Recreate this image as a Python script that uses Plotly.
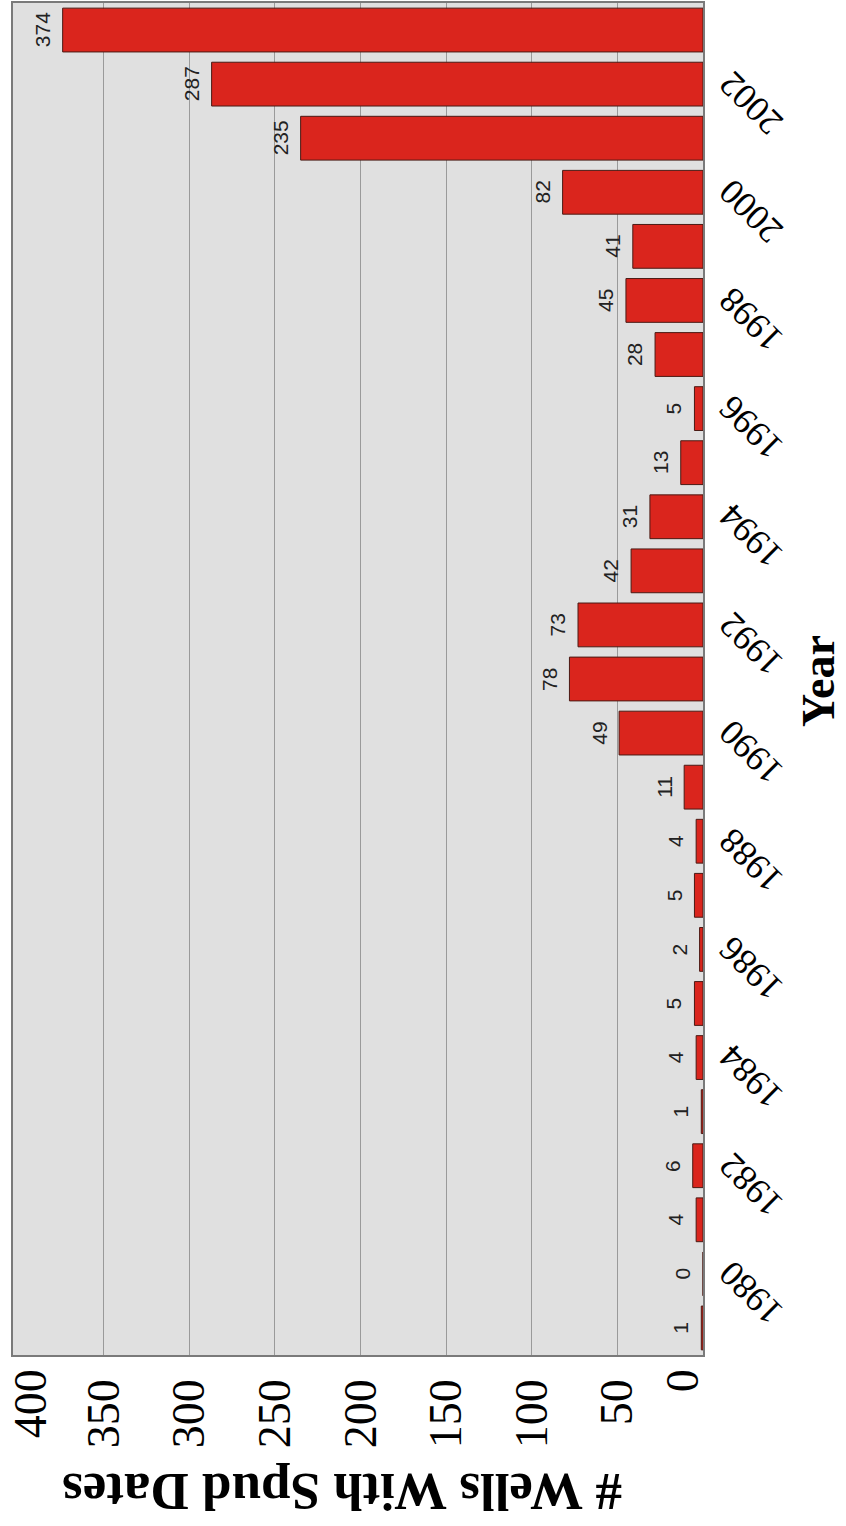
import plotly.graph_objects as go

years = list(range(1980, 2005))
wells = [1, 0, 4, 6, 1, 4, 5, 2, 5, 4, 11, 49, 78, 73, 42, 31, 13, 5, 28, 45, 41, 82, 235, 287, 374]
year_ticks = list(range(1980, 2003, 2))
value_ticks_mid = [50, 100, 150, 200, 250, 300, 350]
value_tick_max = [400]
value_tick_min = [0]

X_RANGE = [403, 0]
tick_font = dict(family="Liberation Serif", size=46, color="black")

fig = go.Figure()
fig.add_trace(go.Bar(
    x=wells, y=years, orientation="h",
    marker=dict(color="#da251d", line=dict(color="#4a1a14", width=1)),
    width=0.81, hoverinfo="x+y",
))
# invisible carriers so the overlay axes holding the end tick labels are drawn
fig.add_trace(go.Scatter(x=value_tick_max, y=[years[0]], xaxis="x2", mode="markers",
                         marker=dict(opacity=0), hoverinfo="skip"))
fig.add_trace(go.Scatter(x=value_tick_min, y=[years[0]], xaxis="x3", mode="markers",
                         marker=dict(opacity=0), hoverinfo="skip"))

annotations = []
for yr, v in zip(years, wells):
    annotations.append(dict(
        x=v, y=yr, xref="x", yref="y", text=str(v), showarrow=False,
        textangle=-90, xanchor="right", yanchor="middle", xshift=-7,
        font=dict(family="Liberation Sans", size=21, color="#222222"),
    ))
annotations += [
    dict(text="<b># Wells With Spud Dates</b>", xref="paper", yref="paper",
         x=0.476, y=-0.1013, xanchor="center", yanchor="middle",
         textangle=180, showarrow=False,
         font=dict(family="Liberation Serif", size=53, color="black")),
    dict(text="<b>Year</b>", xref="paper", yref="paper",
         x=1.1667, y=0.4985, xanchor="center", yanchor="middle",
         textangle=-90, showarrow=False,
         font=dict(family="Liberation Serif", size=46, color="black")),
]

overlay_common = dict(
    overlaying="x", anchor="y", side="bottom", range=X_RANGE,
    tickangle=-90, tickfont=tick_font, showgrid=False, showline=False,
    zeroline=False, automargin=False, ticks="", ticklabelstandoff=4,
    ticklabeloverflow="allow",
)

fig.update_layout(
    width=846, height=1526,
    margin=dict(l=13, r=143, t=3, b=171),
    paper_bgcolor="white", plot_bgcolor="#e0e0e0",
    showlegend=False, bargap=0.19,
    xaxis=dict(
        range=X_RANGE, tickvals=value_ticks_mid, tickangle=-90, tickfont=tick_font,
        showgrid=True, gridcolor="#9a9a9a", gridwidth=1,
        showline=True, mirror=True, linecolor="#7a7a7a", linewidth=1.5,
        zeroline=False, automargin=False, ticks="", ticklabelstandoff=4,
        ticklabeloverflow="allow",
    ),
    xaxis2=dict(tickvals=value_tick_max, ticklabelshift=-13, **overlay_common),
    xaxis3=dict(tickvals=value_tick_min, ticklabelshift=20, **overlay_common),
    yaxis=dict(
        range=[1979.5, 2004.5], side="right", tickvals=year_ticks,
        tickangle=-135,
        tickfont=dict(family="Liberation Serif", size=36, color="black"),
        showgrid=False, showline=True, mirror=True, linecolor="#7a7a7a", linewidth=1.5,
        zeroline=False, automargin=False, ticks="", ticklabelstandoff=60,
        ticklabeloverflow="allow",
    ),
    annotations=annotations,
)

fig.write_html("out.html", post_script="document.body.style.margin='0';",
               config={"displayModeBar": False})
